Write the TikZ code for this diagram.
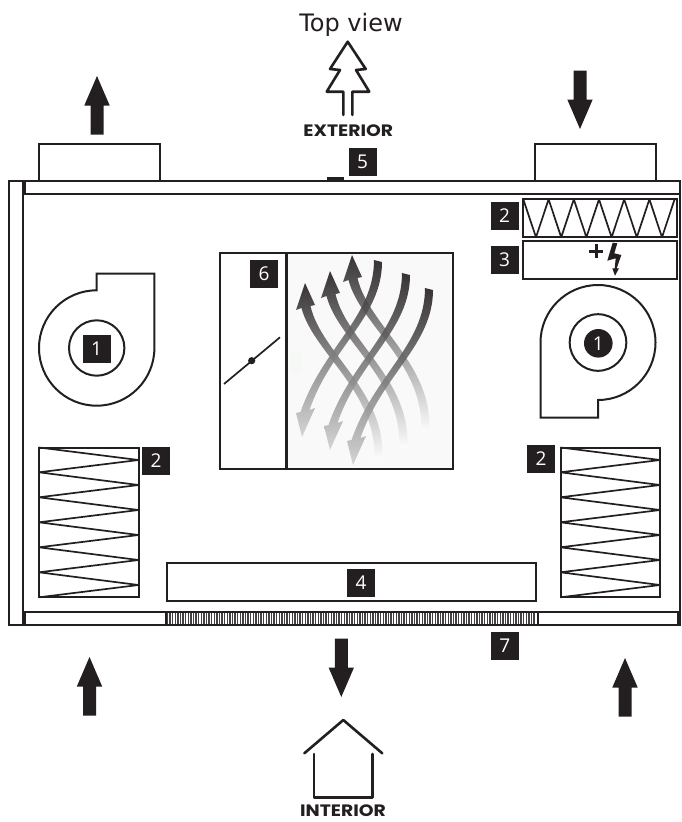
\documentclass[tikz,border=0pt]{standalone}
\usepackage{fontspec}
\setmainfont{Open Sans}
\newfontfamily\titlefont{DejaVu Sans}
\newfontfamily\signfont[FakeStretch=1.14]{Poppins}
\definecolor{inkc}{HTML}{231F20}
\tikzset{
    wall/.style={draw=inkc, line width=2pt},
    zigzag/.style={draw=inkc, line width=1.7pt, line join=bevel},
    numbox/.style={fill=inkc, text=white, minimum size=28pt, inner sep=0pt, font=\fontsize{19}{19}\selectfont},
    signtext/.style={text=inkc, inner sep=0pt, anchor=base, font=\fontsize{16.5}{16.5}\signfont\selectfont\bfseries},
    sign/.style={draw=inkc, line width=2.6pt, line cap=round, line join=round},
    swirlup/.style={top color=inkc, middle color=inkc!62, bottom color=white, opacity=0.9},
    swirldown/.style={top color=inkc, middle color=inkc!62, bottom color=black!18, opacity=0.9}
}
\begin{document}
\begin{tikzpicture}[x=1pt, y=-1pt]
    \useasboundingbox (0,0) rectangle (681,822);
    \node[anchor=base, inner sep=0pt, text=inkc, font=\fontsize{24}{24}\titlefont\selectfont] (title) at (351,31) {Top view};
    % air flow arrows
    \foreach \x/\y/\d in {97/76/1, 89.5/657/1, 625/658/1, 580/129/-1, 341.3/697/-1} {
        \fill[inkc] (\x,\y) -- (\x+12.7,\y+\d*29.5) -- (\x+6.5,\y+\d*29.5) -- (\x+6.5,\y+\d*58.5)
            -- (\x-6.5,\y+\d*58.5) -- (\x-6.5,\y+\d*29.5) -- (\x-12.7,\y+\d*29.5) -- cycle;
    }
    % ducts and casing
    \draw[wall] (39,181) -- (39,144.3) -- (160,144.3) -- (160,181);
    \draw[wall] (535.3,181) -- (535.3,144.3) -- (655.7,144.3) -- (655.7,181);
    \draw[wall] (9,181) rectangle (679.5,625);
    \draw[wall] (22.7,181) -- (22.7,625);
    \draw[wall] (24.7,181) -- (24.7,194) -- (679.5,194);
    \draw[wall] (24.7,611.7) rectangle (166,625);
    \draw[wall] (537.5,611.7) rectangle (677.7,625);
    \foreach \x in {167.5,170.1,...,536} {
        \draw[inkc!85, line width=1.4pt] (\x,612.5) -- (\x,624.2);
    }
    \draw[wall] (166,611.7) rectangle (537.5,625);
    \fill[inkc] (327.3,177.3) rectangle (344.3,181);
    % filters
    \draw[wall] (523.3,199.3) rectangle (676.7,237.3);
    \draw[zigzag] (523.3,199.3) \foreach \x in {0,...,5} { -- (536+\x*25.2,237.3) -- (548.6+\x*25.2,199.3) } ;
    \foreach \x in {39,560.5} {
        \draw[wall] (\x,447.5) rectangle (\x+99.5,597.3);
        \draw[zigzag] (\x,447.5) \foreach \k in {0,...,5} { -- (\x+99.5,460+\k*25) -- (\x,472.3+\k*25) } ;
    }
    % heater
    \draw[wall] (523.3,241) rectangle (676.7,279);
    \draw[inkc, line width=3pt] (589,251) -- (603,251) (596,244) -- (596,258);
    \fill[inkc] (612.7,242.7) -- (617.3,243.3) -- (614.3,253.3) -- (621.3,255) -- (616.7,268.3) -- (619,268.3)
        -- (615,275.7) -- (612.3,268.3) -- (614.7,268.3) -- (615.7,258.3) -- (607.3,260.7) -- cycle;
    % fans
    \draw[wall] (96.7,290.3) arc [start angle=270, end angle=0, radius=57.7] -- (154.4,273.5) -- (96.7,273.5) -- cycle;
    \draw[wall] (96.7,348) circle [radius=27.7];
    \draw[wall] (540.5,342.5) arc [start angle=180, end angle=450, radius=57.5] -- (598,417.7) -- (540.5,417.7) -- cycle;
    \draw[wall] (598,342.5) circle [radius=28.3];
    \fill[inkc] (598.3,343.3) circle [radius=14.3];
    % exchanger
    \fill[black!2.5] (286.7,252.7) rectangle (452.7,469);
    \fill[green!30!black!4] (290,352) rectangle (302,372);
    \foreach \x/\y in {305/283, 330/271, 352/255} {
        \shade[swirlup] (\x,\y) -- (\x+10,\y+22) -- (\x+5.5,\y+23) .. controls (\x+16,\y+70) and (\x+82,\y+110) .. (\x+77,\y+176)
            -- (\x+69,\y+178) .. controls (\x+74,\y+110) and (\x+8,\y+70) .. (\x-3.5,\y+25) -- (\x-9,\y+27) -- cycle;
    }
    \foreach \x/\y in {302/437, 330/450, 353/465} {
        \shade[swirldown] (\x,\y) -- (\x-6,\y-24) -- (\x-1.5,\y-25) .. controls (\x+21,\y-90) and (\x+72,\y-120) .. (\x+72,\y-177)
            -- (\x+80,\y-175) .. controls (\x+80,\y-120) and (\x+29,\y-90) .. (\x+7.5,\y-27) -- (\x+13,\y-29) -- cycle;
    }
    \draw[wall] (220,252.7) rectangle (452.7,469);
    \draw[inkc, line width=2.6pt] (286.7,252.7) -- (286.7,469);
    \draw[inkc, line width=1.7pt] (224,384) -- (280,337.3);
    \fill[inkc] (251.7,360.7) circle [radius=3.6];
    % supply box
    \draw[wall] (167,563.3) rectangle (536,601);
    % numbers
    \node[numbox] (fanleft) at (96.5,348.7) {1};
    \node[text=white, font=\fontsize{19}{19}\selectfont] (fanright) at (598.3,343.3) {1};
    \node[numbox] (filtertop) at (504.5,216) {2};
    \node[numbox] (filterleft) at (156,460.5) {2};
    \node[numbox] (filterright) at (541,459) {2};
    \node[numbox] (heater) at (504.5,259.5) {3};
    \node[numbox] (supply) at (361,583) {4};
    \node[numbox] (sensor) at (362.5,161.5) {5};
    \node[numbox] (damper) at (264,274) {6};
    \node[numbox] (grille) at (504.7,646) {7};
    % tree and house
    \draw[sign] (343.3,115) -- (343.3,91.7) -- (326.7,91.7) -- (340,70) -- (330,69) -- (347.7,41.7) -- (365.7,69)
        -- (356,70) -- (369.3,91.7) -- (352.3,91.7) -- (352.3,115);
    \node[signtext] (exterior) at (348.3,136.7) {EXTERIOR};
    \draw[sign] (304.3,753.3) -- (343.3,720) -- (382.3,753.3);
    \draw[sign] (314,754) -- (314,797.3) -- (372.7,797.3) -- (372.7,754);
    \node[signtext] (interior) at (343,816.5) {INTERIOR};
\end{tikzpicture}
\end{document}
